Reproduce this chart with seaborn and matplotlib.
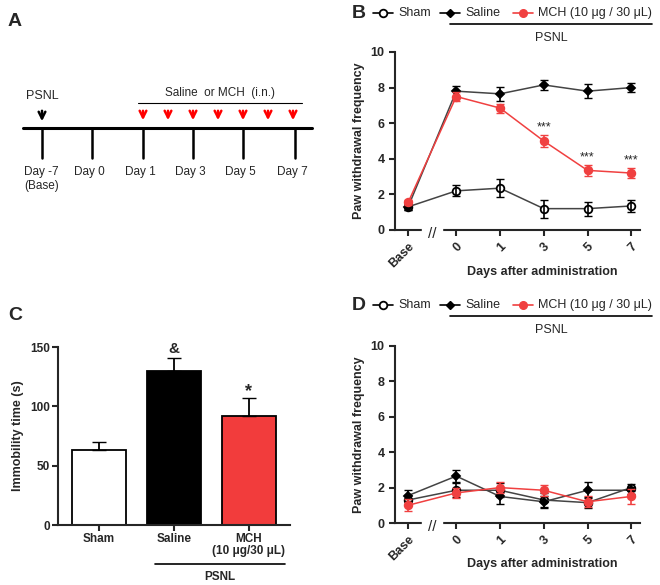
import numpy as np
import pandas as pd
import matplotlib
matplotlib.use("Agg")
import matplotlib.pyplot as plt
import seaborn as sns

sns.set_style("ticks")
plt.rcParams['font.family'] = ['Liberation Sans', 'DejaVu Sans']

days = ["Base", "0", "1", "3", "5", "7"]
xpos = [0, 1.1, 2.1, 3.1, 4.1, 5.1]

B_sham = [1.3, 2.2, 2.35, 1.2, 1.2, 1.35]
B_sham_e = [0.2, 0.3, 0.5, 0.5, 0.4, 0.35]
B_sal = [1.3, 7.8, 7.65, 8.15, 7.8, 8.0]
B_sal_e = [0.15, 0.3, 0.4, 0.3, 0.4, 0.25]
B_mch = [1.55, 7.5, 6.85, 5.0, 3.35, 3.2]
B_mch_e = [0.15, 0.25, 0.25, 0.35, 0.3, 0.3]

D_sham = [1.3, 1.85, 1.85, 1.3, 1.15, 2.0]
D_sham_e = [0.3, 0.4, 0.4, 0.4, 0.3, 0.2]
D_sal = [1.55, 2.65, 1.5, 1.2, 1.85, 1.85]
D_sal_e = [0.3, 0.35, 0.4, 0.35, 0.45, 0.2]
D_mch = [1.0, 1.7, 2.0, 1.85, 1.2, 1.5]
D_mch_e = [0.35, 0.3, 0.3, 0.3, 0.3, 0.4]

C_groups = ["Sham", "Saline", "MCH\n(10 μg/30 μL)"]
C_vals = [63, 130, 92]
C_err = [7, 11, 15]
C_colors = ["white", "black", "#f23c3c"]

tl_days = ["Day -7\n(Base)", "Day 0", "Day 1", "Day 3", "Day 5", "Day 7"]
tl_x = [42, 92, 143, 193, 243, 295]
arrow_x = [143, 168, 193, 218, 243, 268, 293]

W, H = 660, 585
fig = plt.figure(figsize=(6.6, 5.85), dpi=100)

# Panel A (timeline)
axA = fig.add_axes([0, 0, 1, 1])
axA.set_xlim(0, W); axA.set_ylim(H, 0); axA.axis("off")
axA.text(8, 22, "A", fontsize=14, fontweight="bold", va="center")
axA.plot([23, 312], [128, 128], color="black", lw=2.2)
for x, lab in zip(tl_x, tl_days):
    axA.plot([x, x], [128, 158], color="black", lw=1.8)
    axA.text(x - 18, 166, lab, fontsize=8.5, va="top", ha="left")
axA.annotate("", xy=(42, 124), xytext=(42, 108),
             arrowprops=dict(arrowstyle="->", color="black", lw=1.8, mutation_scale=12))
axA.text(42, 96, "PSNL", fontsize=9, ha="center", va="center")
for x in arrow_x:
    axA.annotate("", xy=(x, 123), xytext=(x, 108),
                 arrowprops=dict(arrowstyle="->", color="red", lw=1.8, mutation_scale=12))
axA.plot([138, 302], [103, 103], color="black", lw=0.8)
axA.text(220, 93, "Saline  or MCH  (i.n.)", fontsize=8.5, ha="center", va="center")

def line_panel(rect, letter, sham, she, sal, sae, mch, mce, stars, ytop_px):
    ax = fig.add_axes(rect)
    series = [("Sham", sham, she, "black", "white", "o", 5.5),
              ("Saline", sal, sae, "black", "black", "D", 4.5),
              ("MCH", mch, mce, "#f04040", "#f04040", "o", 5.5)]
    for name, v, e, c, fc, m, ms in series:
        df = pd.DataFrame({"x": xpos, "y": v})
        sns.lineplot(data=df, x="x", y="y", ax=ax, color="#444444" if name != "MCH" else c,
                     lw=1.1, marker=m, markersize=ms, markerfacecolor=fc,
                     markeredgecolor=c, markeredgewidth=1.3)
        ax.errorbar(xpos, v, yerr=e, fmt="none", ecolor=c, elinewidth=1.2, capsize=3)
    ax.set_ylim(0, 10)
    ax.set_xlim(-0.3, 5.3)
    ax.set_yticks([0, 2, 4, 6, 8, 10])
    ax.set_xticks(xpos)
    ax.set_xticklabels(days, rotation=45, ha="right", rotation_mode="anchor", fontweight="bold")
    for t in ax.get_yticklabels():
        t.set_fontweight("bold")
    ax.tick_params(labelsize=9, width=1.5, length=4)
    ax.set_xlabel("Days after administration", fontsize=9, fontweight="bold", labelpad=-6)
    ax.xaxis.set_label_coords(0.6, -0.2)
    ax.set_ylabel("Paw withdrawal frequency", fontsize=9, fontweight="bold")
    sns.despine(ax=ax)
    for s in ["left", "bottom"]:
        ax.spines[s].set_linewidth(1.5)
    ax.text(0.55, -0.02, "//", transform=ax.get_xaxis_transform(), fontsize=11,
            ha="center", va="center", backgroundcolor="white")
    for i in stars:
        ax.text(xpos[i], B_mch[i] + B_mch_e[i] + 0.25, "***", ha="center", fontsize=9)
    # legend header
    y = ytop_px
    axA.text(352, y, letter, fontsize=14, fontweight="bold", va="center")
    axA.plot([373, 393], [y, y], color="black", lw=1.2)
    axA.plot([383], [y], marker="o", mfc="white", mec="black", ms=5.5, mew=1.3)
    axA.text(398, y, "Sham", fontsize=9, va="center")
    axA.plot([440, 460], [y, y], color="black", lw=1.2)
    axA.plot([450], [y], marker="D", color="black", ms=4.5)
    axA.text(465, y, "Saline", fontsize=9, va="center")
    axA.plot([513, 533], [y, y], color="#f04040", lw=1.2)
    axA.plot([523], [y], marker="o", color="#f04040", ms=5.5)
    axA.text(538, y, "MCH (10 μg / 30 μL)", fontsize=9, va="center")
    axA.plot([450, 652], [y + 11, y + 11], color="black", lw=1.2)
    axA.text(551, y + 25, "PSNL", fontsize=9, ha="center", va="center")
    return ax

line_panel([395/W, 1 - 230/H, 245/W, 178/H], "B", B_sham, B_sham_e, B_sal, B_sal_e,
           B_mch, B_mch_e, [3, 4, 5], 13)
line_panel([395/W, 1 - 523/H, 245/W, 177/H], "D", D_sham, D_sham_e, D_sal, D_sal_e,
           D_mch, D_mch_e, [], 305)

# Panel C
axC = fig.add_axes([58/W, 1 - 525/H, 232/W, 178/H])
dfc = pd.DataFrame({"g": C_groups, "v": C_vals})
sns.barplot(data=dfc, x="g", y="v", hue="g", palette=C_colors, ax=axC, width=0.72,
            edgecolor="black", linewidth=1.3, legend=False, saturation=1)
axC.errorbar(range(3), C_vals, yerr=[[0]*3, C_err], fmt="none", ecolor="black",
             elinewidth=1.3, capsize=5)
axC.set_ylim(0, 150)
axC.set_yticks([0, 50, 100, 150])
axC.set_xlim(-0.55, 2.55)
axC.set_xlabel("")
axC.set_ylabel("Immobility time (s)", fontsize=9, fontweight="bold")
axC.tick_params(labelsize=8.5, width=1.5, length=4, pad=2)
for t in axC.get_xticklabels() + axC.get_yticklabels():
    t.set_fontweight("bold")
for t in axC.get_xticklabels():
    t.set_linespacing(1.0)
sns.despine(ax=axC)
for s in ["left", "bottom"]:
    axC.spines[s].set_linewidth(1.5)
axC.text(1, C_vals[1] + C_err[1] + 4, "&", ha="center", fontsize=11, fontweight="bold")
axC.text(2, C_vals[2] + C_err[2] + 2, "*", ha="center", fontsize=13, fontweight="bold")
axA.text(8, 316, "C", fontsize=14, fontweight="bold", va="center")
axA.plot([155, 285], [564, 564], color="black", lw=1.2)
axA.text(220, 577, "PSNL", fontsize=8.5, fontweight="bold", ha="center", va="center")

fig.savefig("out.png", dpi=100)
